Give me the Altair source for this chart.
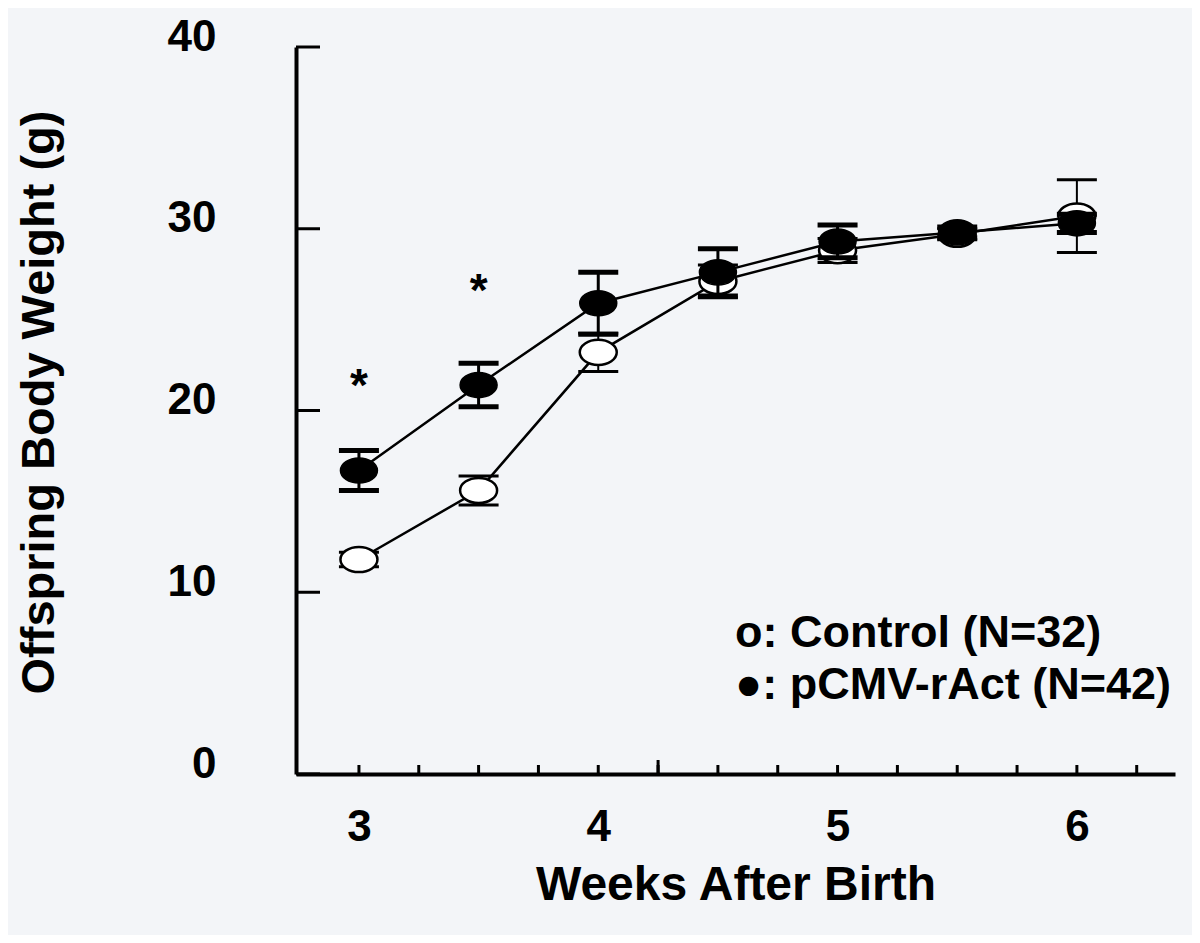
import altair as alt
import pandas as pd

# ---- data ----
weeks = [3, 3.5, 4, 4.5, 5, 5.5, 6]
control_mean = [11.8, 15.6, 23.2, 27.1, 28.8, 29.7, 30.7]
control_err = [0.4, 0.8, 1.05, 0.9, 0.66, 0.3, 2.0]
ract_mean = [16.7, 21.4, 25.9, 27.6, 29.3, 29.8, 30.3]
ract_err = [1.1, 1.2, 1.7, 1.3, 0.9, 0.3, 0.5]

star_weeks = [3, 3.5]
star_values = [21.8, 27.0]

x_minor_ticks = [3, 3.25, 3.5, 3.75, 4, 4.25, 4.5, 4.75, 5, 5.25, 5.5, 5.75, 6, 6.25]
x_long_ticks = [4.25]
x_labels = [3, 4, 5, 6]
y_ticks = [0, 10, 20, 30, 40]

y_title = "Offspring Body Weight (g)"
x_title = "Weeks After Birth"
legend_control = "o: Control (N=32)"
legend_ract = "\u25cf: pCMV-rAct (N=42)"

W, H = 879, 727
FONT = "Liberation Sans"

ctrl = pd.DataFrame({"week": weeks, "mean": control_mean, "err": control_err})
ctrl["lo"] = ctrl["mean"] - ctrl["err"]
ctrl["hi"] = ctrl["mean"] + ctrl["err"]
ract = pd.DataFrame({"week": weeks, "mean": ract_mean, "err": ract_err})
ract["lo"] = ract["mean"] - ract["err"]
ract["hi"] = ract["mean"] + ract["err"]

xscale = alt.Scale(domain=[2.737, 6.41], nice=False, zero=False)
yscale = alt.Scale(domain=[0, 40], nice=False, zero=False)

ELLIPSE = "M-1,0A1,0.68,0,1,1,1,0A1,0.68,0,1,1,-1,0Z"

xaxis = alt.Axis(
    values=x_labels, format="d", ticks=False, grid=False,
    domainColor="black", domainWidth=4,
    labelFont=FONT, labelFontSize=44, labelFontWeight="bold", labelColor="black",
    labelPadding=31,
    title=x_title, titleFont=FONT, titleFontSize=48, titleFontWeight="bold",
    titleColor="black", titleX=W / 2, titleY=111, titleBaseline="middle", titleAlign="center",
    titleLimit=0,
)
yaxis = alt.Axis(
    values=y_ticks, format="d", ticks=False, grid=False,
    domainColor="black", domainWidth=4,
    labelFont=FONT, labelFontSize=44, labelFontWeight="bold", labelColor="black",
    labelPadding=80, labelOffset=-10,
    title=None,
)


def X(f="week"):
    return alt.X(f"{f}:Q", scale=xscale, axis=xaxis)


def Y(f="mean"):
    return alt.Y(f"{f}:Q", scale=yscale, axis=yaxis)


# inward ticks
xt = alt.Chart(pd.DataFrame({"t": x_minor_ticks})).mark_rule(color="black", strokeWidth=3).encode(
    x=X("t"), y=alt.value(H), y2=alt.value(H - 9))
xlt = alt.Chart(pd.DataFrame({"t": x_long_ticks})).mark_rule(color="black", strokeWidth=3).encode(
    x=X("t"), y=alt.value(H), y2=alt.value(H - 14))
yt = alt.Chart(pd.DataFrame({"t": y_ticks})).mark_rule(color="black", strokeWidth=3).encode(
    y=Y("t"), x=alt.value(0), x2=alt.value(24))

line_c = alt.Chart(ctrl).mark_line(color="black", strokeWidth=2.5).encode(x=X(), y=Y())
line_r = alt.Chart(ract).mark_line(color="black", strokeWidth=2.5).encode(x=X(), y=Y())


def errbars(df, stem, cap):
    stem_m = alt.Chart(df).mark_rule(color="black", strokeWidth=stem, opacity=1).encode(
        x=X(), y=Y("lo"), y2="hi:Q")
    lo = alt.Chart(df).mark_tick(color="black", orient="horizontal", size=40, thickness=cap,
                                 opacity=1).encode(x=X(), y=Y("lo"))
    hi = alt.Chart(df).mark_tick(color="black", orient="horizontal", size=40, thickness=cap,
                                 opacity=1).encode(x=X(), y=Y("hi"))
    return stem_m + lo + hi


pts_c = alt.Chart(ctrl).mark_point(
    shape=ELLIPSE, size=1369, filled=True, fill="white", stroke="black", strokeWidth=2.5, opacity=1
).encode(x=X(), y=Y())
pts_r = alt.Chart(ract).mark_point(
    shape=ELLIPSE, size=1369, filled=True, fill="black", stroke="black", strokeWidth=1.5, opacity=1
).encode(x=X(), y=Y())

stars = alt.Chart(pd.DataFrame({"week": star_weeks, "v": star_values})).mark_text(
    text="*", font=FONT, fontSize=46, fontWeight="bold", color="black", baseline="middle", dy=9
).encode(x=X(), y=Y("v"))

ytitle = alt.Chart(pd.DataFrame({"t": [y_title]})).mark_text(
    font=FONT, fontSize=47, fontWeight="bold", color="black", align="center",
    baseline="middle", angle=270
).encode(x=alt.value(-256), y=alt.value(H / 2 - 8), text="t:N")

leg1 = alt.Chart(pd.DataFrame({"t": [legend_control]})).mark_text(
    font=FONT, fontSize=45, fontWeight="bold", color="black", align="left", baseline="middle"
).encode(x=alt.value(439), y=alt.value(586), text="t:N")
leg2 = alt.Chart(pd.DataFrame({"t": [legend_ract]})).mark_text(
    font=FONT, fontSize=45, fontWeight="bold", color="black", align="left", baseline="middle"
).encode(x=alt.value(439), y=alt.value(638), text="t:N")

chart = alt.layer(
    xt, xlt, yt, line_c, line_r,
    errbars(ctrl, 2, 3), pts_c,
    errbars(ract, 3, 5), pts_r,
    stars, ytitle, leg1, leg2,
).properties(
    width=W, height=H,
    autosize=alt.AutoSizeParams(type="none"),
    padding={"left": 288, "top": 39, "right": 17, "bottom": 161},
    background="#f3f5f8",
).configure_view(stroke=None)

chart.save("out.html", embed_options={"renderer": "svg", "actions": False})
